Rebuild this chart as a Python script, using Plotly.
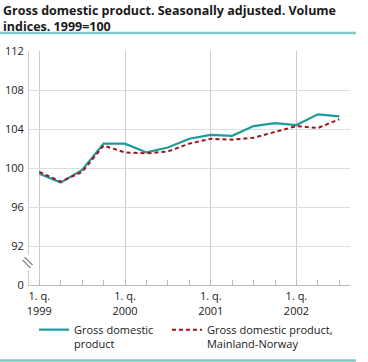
import plotly.graph_objects as go

quarters = ["1999Q1", "1999Q2", "1999Q3", "1999Q4",
            "2000Q1", "2000Q2", "2000Q3", "2000Q4",
            "2001Q1", "2001Q2", "2001Q3", "2001Q4",
            "2002Q1", "2002Q2", "2002Q3"]
gdp = [99.4, 98.5, 99.8, 102.5, 102.5, 101.6, 102.1, 103.0,
       103.4, 103.3, 104.3, 104.6, 104.4, 105.5, 105.3]
gdp_mainland = [99.6, 98.6, 99.6, 102.3, 101.6, 101.5, 101.7, 102.5,
                103.0, 102.9, 103.1, 103.7, 104.3, 104.1, 105.0]
year_ticks = [0, 4, 8, 12]
year_labels = ["1. q.<br>1999", "1. q.<br>2000", "1. q.<br>2001", "1. q.<br>2002"]
y_tickvals = [88, 92, 96, 100, 104, 108, 112]
y_ticktext = ["0", "92", "96", "100", "104", "108", "112"]

x = list(range(len(quarters)))

W, H = 368, 362
L, R, T, B = 29, 18, 51, 77
pw, ph = W - L - R, H - T - B


def px_x(p):
    return (p - L) / pw


def px_y(p):
    return (H - B - p) / ph


FONT = "Open Sans"
TEAL = "#1f9a9b"
RED = "#a3141a"
LINE = "#80c8c8"

fig = go.Figure()
fig.add_trace(go.Scatter(x=x, y=gdp, mode="lines",
                         name="Gross domestic&nbsp;&nbsp;&nbsp;<br>product",
                         line=dict(color=TEAL, width=2.2), customdata=quarters))
fig.add_trace(go.Scatter(x=x, y=gdp_mainland, mode="lines",
                         name="Gross domestic product,<br>Mainland-Norway",
                         line=dict(color=RED, width=2.0, dash="4px,3px"), customdata=quarters))

shapes = [
    dict(type="line", xref="paper", yref="paper", x0=px_x(0), x1=px_x(356),
         y0=px_y(33), y1=px_y(33), line=dict(color=LINE, width=2.5)),
    dict(type="line", xref="paper", yref="paper", x0=px_x(0), x1=px_x(356),
         y0=px_y(360.5), y1=px_y(360.5), line=dict(color=LINE, width=2.5)),
    # gap in y-axis line for the break
    dict(type="rect", xref="paper", yref="paper", x0=px_x(27), x1=px_x(31),
         y0=px_y(270), y1=px_y(255), fillcolor="white", line=dict(width=0), layer="above"),
    dict(type="line", xref="paper", yref="paper", x0=px_x(24.5), x1=px_x(32.5),
         y0=px_y(257), y1=px_y(265), line=dict(color="#333333", width=1), layer="above"),
    dict(type="line", xref="paper", yref="paper", x0=px_x(22.5), x1=px_x(30.5),
         y0=px_y(260), y1=px_y(268), line=dict(color="#333333", width=1), layer="above"),
]

fig.update_layout(
    width=W, height=H,
    margin=dict(l=L, r=R, t=T, b=B, pad=0, autoexpand=False),
    paper_bgcolor="white", plot_bgcolor="white",
    font=dict(family=FONT, size=11, color="#1a1a1a"),
    showlegend=True,
    legend=dict(orientation="h", x=px_x(34), xanchor="left", y=px_y(316), yanchor="top",
                font=dict(family=FONT, size=11, color="#1a1a1a"),
                itemwidth=30, valign="top",
                bgcolor="rgba(0,0,0,0)", tracegroupgap=0),
    shapes=shapes,
    annotations=[dict(text="Gross domestic product. Seasonally adjusted. Volume<br>indices. 1999=100",
                      xref="paper", yref="paper", x=px_x(1), y=px_y(0), xanchor="left", yanchor="top",
                      align="left", showarrow=False,
                      font=dict(family=FONT, size=12.5, color="#1a1a1a", weight="bold"))],
)

fig.update_xaxes(range=[-0.48, 14.5], tickvals=year_ticks, ticktext=year_labels,
                 showgrid=True, gridcolor="#cccccc", gridwidth=1,
                 showline=True, linecolor="#bbbbbb", linewidth=1,
                 ticks="inside", ticklen=5, tickcolor="#bbbbbb",
                 minor=dict(tick0=0, dtick=1, ticks="inside", ticklen=5, tickcolor="#bbbbbb", showgrid=False),
                 zeroline=False, fixedrange=True, tickfont=dict(size=11),
                 ticklabelstandoff=1)
fig.update_yaxes(range=[88, 112], tickvals=y_tickvals, ticktext=y_ticktext,
                 showgrid=True, gridcolor="#dddddd", gridwidth=1,
                 showline=True, linecolor="#cccccc", linewidth=1,
                 ticks="", zeroline=False, fixedrange=True, tickfont=dict(size=11),
                 ticklabelstandoff=2)

fig.write_html("out.html", config={"displayModeBar": False},
               post_script="document.body.style.margin='0';")
